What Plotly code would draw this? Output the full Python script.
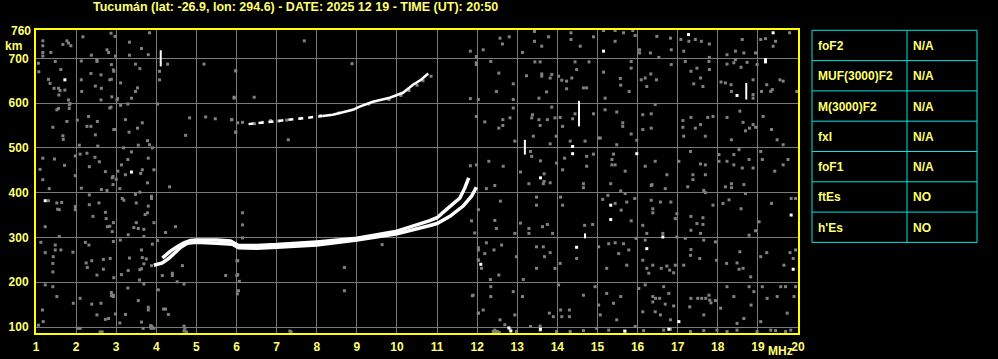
import plotly.graph_objects as go

# ---------------- data ----------------
freq_ticks = list(range(1, 21))
height_ticks = [100, 200, 300, 400, 500, 600, 700]

# F-layer trace, ordinary (upper strand)
o_freq = [4.15, 4.36, 4.53, 4.69, 4.85, 5.0, 5.5, 5.85, 6.05, 6.5, 7.0, 8.0, 9.0, 10.0, 10.8, 11.0, 11.23, 11.4, 11.57, 11.69, 11.79]
o_km = [254, 270, 280, 288, 293, 294, 294, 292, 282, 282, 284, 290, 298, 314, 337, 344, 362, 374, 388, 410, 433]
# F-layer trace, extraordinary (lower strand)
x_freq = [3.94, 4.15, 4.32, 4.48, 4.61, 4.77, 5.0, 5.5, 5.9, 6.05, 6.5, 7.0, 8.0, 9.0, 10.0, 10.8, 11.0, 11.32, 11.65, 11.86, 11.98]
x_km = [238, 243, 254, 267, 278, 287, 289, 287, 285, 277, 276, 278, 283, 294, 308, 326, 331, 347, 370, 392, 412]
# second-hop trace
hop2a_freq = [6.3, 6.9, 7.4, 7.82, 8.15]
hop2a_km = [553, 559, 563, 567, 571]
hop2b_freq = [8.15, 8.4, 8.9, 9.07, 9.4, 9.82, 10.15, 10.4, 10.6, 10.78]
hop2b_km = [571, 574, 585, 592, 603, 612, 623, 641, 652, 666]

# short vertical white echoes
bar_freq = [4.11, 14.54, 13.19, 18.71, 14.69]
bar_low = [682, 548, 485, 608, 298]
bar_high = [718, 605, 518, 645, 309]

# scattered gray noise pixels (freq MHz, height km)
noise_gray = [
    (1.17,739),(1.17,728),(1.17,713),(1.17,705),(1.37,713),(1.67,731),(1.77,739),(1.81,734),(1.87,728),(2.17,748),(2.38,707),(2.52,696),(2.87,756),(2.77,719),(2.81,713),(2.98,705),
    (1.06,689),(1.07,670),(1.48,693),(1.62,675),(1.31,653),(1.35,644),(1.45,633),(1.56,633),(1.6,628),(1.72,629),(1.57,618),(1.81,607),(1.85,599),(2.13,694),(2.13,652),(2.14,626),(2.37,666),(2.48,638),(2.52,693),(2.62,663),(2.63,633),(2.62,607),(2.88,653),(2.93,674),(2.89,614),(3.02,607),
    (1.56,588),(1.52,585),(1.77,559),(1.83,596),(1.83,588),(1.42,546),(1.67,527),(1.68,519),(2.03,562),(2.08,506),(2.31,570),(2.37,548),(2.27,548),(2.53,559),(2.48,529),(2.54,504),(2.87,591),(2.98,541),
    (1.17,477),(1.1,452),(1.17,429),(1.33,409),(1.46,475),(1.71,461),(1.98,482),(1.98,438),(2.1,486),(2.13,410),(2.33,458),(2.27,488),(2.47,479),(2.58,469),(2.73,447),(2.92,436),(3.0,430),(2.77,405),(2.63,407),
    (1.31,382),(1.52,377),(1.58,362),(1.54,363),(1.64,378),(1.98,369),(1.98,362),(2.33,373),(2.33,395),(2.42,347),(2.57,377),(2.73,356),(2.75,342),(2.78,324),(1.23,324),(2.93,333),
    (1.58,302),(1.12,289),(1.23,266),(1.48,283),(1.48,272),(1.62,272),(1.43,257),(1.42,242),(1.42,223),(1.92,267),(2.23,289),(2.32,283),(2.25,243),(2.28,233),(2.39,248),(2.52,216),(2.68,251),(2.68,229),(2.85,253),(2.93,291),
    (1.23,194),(1.42,190),(1.52,168),(1.93,153),(1.16,138),(1.18,112),(1.06,104),(2.1,164),(2.39,151),(2.52,127),(2.62,153),(2.73,117),(2.81,119),(2.93,171),(2.93,168),
    (2.05,97),(2.1,97),(2.6,89),(2.65,89),(3.67,97),(3.87,97),(3.87,102),(4.71,97),(4.75,89),(7.36,89),
    (2.97,749),(3.33,736),(3.83,757),(3.63,722),(3.8,708),(3.33,707),(2.88,686),(2.94,671),(3.48,687),(3.59,677),(2.84,652),(3.11,645),(4.08,671),(4.08,652),(3.53,634),(3.48,626),(3.38,611),(3.03,610),(2.84,589),(3.11,595),(3.29,598),(4.03,598),(4.28,687),(5.19,687),(5.98,672),(5.94,611),
    (3.23,563),(3.65,556),(3.32,535),(3.53,544),(2.94,541),(3.78,516),(3.83,507),(3.55,506),(3.9,500),(3.18,500),(4.83,567),(5.23,569),(5.47,565),(5.88,563),(6.03,556),(4.73,528),(5.98,535),
    (3.38,491),(3.29,474),(3.13,462),(3.65,451),(3.61,443),(3.23,440),(2.9,433),(2.92,418),(3.04,448),(3.78,422),(3.8,477),(3.94,451),(4.33,413),(3.09,409),(3.15,387),(3.19,383),(3.48,396),(3.5,377),(3.88,392),(3.88,387),(3.59,401),(3.8,370),(3.72,351),(3.78,355),(3.94,333),(3.5,333),(3.44,322),(3.55,320),(3.69,318),(4.23,311),(4.48,324),(2.84,325),(2.9,313),
    (3.1,294),(3.3,306),(3.69,302),(3.9,285),(4.03,293),(3.63,272),(3.33,254),(3.65,255),(3.69,241),(3.75,252),(3.88,237),(3.59,228),(3.63,230),(3.3,226),(3.13,217),(2.94,210),(4.65,237),(4.4,220),(4.4,215),(4.15,215),(4.05,183),(4.52,201),(4.69,196),(3.69,196),(3.58,205),(3.29,187),(2.88,177),(2.88,170),(3.55,159),(3.8,144),(3.8,138),(4.18,140),(4.23,140),(4.3,128),(2.98,129),(3.23,128),(3.63,111),(3.09,109),(3.86,103),(3.9,100),(3.94,97),(4.69,102),(4.69,91),(6.01,248),(6.01,215),(5.73,215),(6.02,174),
    (7.69,739),(8.88,688),(5.98,672),(5.94,613),(6.44,613),(11.83,716),(11.83,610),(11.98,704),(11.98,686),(12.03,608),(5.88,563),(5.98,535),(7.29,518),(11.83,460),(6.15,355),(6.15,328),(6.15,299),(6.03,248),(6.03,217),(6.07,202),(6.05,181),(8.69,233),(8.69,181),(9.63,284),(11.86,337),(11.94,310),(12.03,362),(12.03,277),(12.03,250),(11.88,170),(12.03,131),(7.33,91),
    (6.15,557),(6.45,554),(6.65,557),(6.85,561),(7.05,560),(7.25,562),(7.6,566),(8.1,572),(8.55,578),(9.3,598),(9.8,608),(10.1,617),(10.3,628),(10.5,640),(10.65,650),(10.85,660),
    (12.15,719),(12.57,745),(12.63,732),(12.8,748),(13.13,713),(13.43,760),(13.43,738),(13.61,727),(13.78,748),(14.34,757),(14.34,742),(14.57,727),(14.9,748),(15.15,762),(15.44,762),(15.44,738),(15.65,757),(15.88,762),(15.94,751),(16.05,719),(16.05,712),(16.32,712),(16.48,749),(16.53,702),(16.82,745),(16.84,719),(17.08,742),(17.15,716),(17.28,738),(17.44,742),(17.59,738),(17.79,732),(17.79,702),(18.23,708),(18.44,716),(18.44,697),(18.61,742),(18.65,712),(18.94,712),(19.07,742),(19.19,744),(19.38,727),(19.44,738),(19.79,757),
    (11.98,690),(12.34,693),(12.54,667),(12.9,643),(12.9,608),(12.48,626),(13.23,661),(13.44,692),(13.57,692),(13.61,665),(13.61,660),(13.73,625),(13.82,656),(13.86,664),(13.54,611),(14.03,660),(14.11,651),(14.23,649),(14.23,632),(14.36,656),(14.48,675),(14.44,692),(14.65,634),(14.73,634),(14.79,692),(15.15,669),(15.19,611),(15.57,655),(15.58,640),(15.79,626),(15.84,693),(15.84,678),(16.09,652),(16.19,656),(16.23,637),(16.33,665),(16.47,652),(16.84,686),(17.19,693),(17.33,671),(17.4,643),(17.48,678),(17.57,656),(17.63,637),(17.78,693),(17.79,675),(18.08,647),(18.19,645),(18.23,687),(18.33,641),(18.34,626),(18.4,690),(18.58,680),(18.73,691),(18.88,652),(18.88,619),(18.88,611),(18.98,686),(19.09,626),(19.22,641),(19.32,626),(19.36,630),(19.55,652),(19.63,649),(19.97,626),
    (11.98,570),(12.19,558),(12.54,544),(12.64,563),(12.64,550),(12.82,567),(12.9,589),(12.94,515),(13.36,567),(13.38,574),(13.4,526),(13.54,563),(13.57,550),(13.75,563),(13.82,509),(13.86,591),(13.94,567),(13.97,526),(14.07,568),(14.13,548),(14.32,515),(14.38,565),(14.44,576),(14.69,515),(14.9,576),(15.07,522),(15.19,585),(15.48,580),(15.63,556),(15.63,548),(15.84,531),(15.98,517),(16.13,574),(16.13,541),(16.34,576),(16.34,544),(16.44,597),(17.13,561),(17.13,546),(17.15,526),(17.33,568),(17.44,544),(17.57,552),(17.69,526),(17.75,568),(17.88,570),(18.23,568),(18.34,518),(18.55,582),(18.63,557),(18.69,538),(18.79,544),(18.88,552),(18.94,546),(19.13,570),(19.34,541),(19.48,518),(19.63,507),
    (11.98,462),(12.29,470),(12.65,459),(13.08,446),(13.33,492),(13.36,481),(13.58,471),(13.67,442),(13.67,425),(13.82,422),(13.98,466),(14.13,451),(14.18,477),(14.73,481),(14.73,459),(14.9,486),(15.03,522),(15.36,474),(15.36,462),(15.44,462),(15.4,486),(15.48,507),(15.69,448),(16.19,459),(16.36,418),(16.44,470),(16.73,440),(17.03,470),(17.32,492),(17.38,440),(17.38,429),(17.57,464),(17.69,462),(17.69,440),(18.03,485),(18.03,470),(18.23,470),(18.4,485),(18.4,462),(18.53,496),(18.61,455),(18.65,418),(18.78,474),(18.88,455),(19.07,492),(19.11,474),(19.42,448),(19.63,462),(19.75,474),
    (12.23,409),(12.44,416),(13.29,420),(13.65,420),(14.65,420),(14.65,411),(15.33,420),(15.58,404),(15.69,398),(16.34,416),(16.69,409),(17.25,413),(17.65,405),(17.69,400),(18.19,413),(18.34,420),(18.34,411),(18.69,398),
    (12.58,381),(12.44,338),(12.48,320),(12.94,309),(13.08,332),(13.29,320),(13.29,309),(13.48,390),(13.48,372),(13.63,324),(13.75,329),(13.88,309),(14.08,390),(14.13,372),(14.68,327),(14.88,329),(15.13,385),(15.26,394),(15.44,376),(15.59,361),(15.73,379),(15.84,337),(15.93,387),(16.13,327),(16.23,309),(16.34,383),(16.38,355),(16.38,364),(16.57,379),(16.63,309),(16.83,379),(16.94,342),(16.98,353),(16.98,301),(17.33,347),(17.33,316),(17.48,331),(17.57,309),(17.63,344),(17.63,329),(17.88,372),(18.13,376),(18.28,384),(18.58,364),(18.78,305),(18.94,315),(19.03,335),(19.34,376),(19.83,387),(19.94,387),
    (12.03,272),(12.03,249),(12.11,231),(12.19,264),(12.23,288),(12.33,206),(12.42,272),(12.54,216),(12.61,283),(12.98,257),(13.15,206),(13.48,279),(13.48,231),(13.65,279),(13.68,257),(13.82,266),(13.94,231),(14.07,242),(14.48,253),(15.03,279),(15.23,231),(15.28,286),(15.44,288),(15.53,264),(15.65,286),(15.73,238),(15.78,272),(15.96,298),(16.19,294),(16.13,249),(16.23,231),(16.28,220),(16.38,238),(16.59,231),(16.73,236),(16.8,227),(16.9,221),(16.94,238),(17.15,238),(17.19,298),(17.32,260),(17.33,273),(17.55,253),(17.65,294),(17.94,290),(17.97,249),(18.22,242),(18.48,243),(18.55,268),(18.53,229),(18.63,231),(18.82,212),(19.07,257),(19.22,266),(19.65,238),(19.8,266),(19.88,253),(19.94,272),
    (11.9,171),(12.03,131),(12.15,138),(12.34,190),(12.34,168),(12.57,116),(12.69,105),(12.9,179),(12.94,127),(13.13,168),(13.33,101),(13.57,102),(13.8,131),(13.9,123),(14.03,194),(14.08,138),(14.11,123),(14.3,138),(14.3,123),(14.65,171),(14.94,190),(15.03,149),(15.07,127),(15.23,175),(15.4,153),(15.48,116),(15.58,168),(16.03,186),(16.13,134),(16.19,194),(16.38,168),(16.38,156),(16.44,134),(16.57,127),(16.65,190),(16.69,151),(16.78,175),(16.82,116),(16.9,147),(17.3,145),(17.33,164),(17.65,127),(17.78,171),(17.83,154),(17.94,159),(18.07,142),(18.23,190),(18.4,168),(18.48,108),(18.65,119),(18.78,190),(18.83,149),(18.9,179),(19.07,112),(19.11,190),(19.23,164),(19.48,168),(19.57,190),(19.69,190),(19.73,131),(19.9,168),(19.94,190),
    (16.45,164),(16.55,164),(17.5,164),(17.6,164),(17.7,164),(17.8,160),
    (12.44,93),(12.48,90),(12.82,95),(12.98,90),(13.57,93),(13.98,90),(14.32,90),(14.65,92),(14.98,97),(15.28,93),(15.69,90),(15.94,101),(16.15,92),(16.65,93),(16.82,95),(17.32,90),(17.65,92),(17.98,93),(18.23,90),(18.48,93),(18.98,90),(19.32,93),(19.44,92),(19.69,90),(19.82,93),
    (12.4,90),(12.45,88),(12.5,90),(12.55,88),
]

# scattered white pixels (freq MHz, height km)
noise_white = [
    (1.72,652),(1.23,382),(3.38,446),(15.15,716),(17.27,753),(19.38,757),(19.19,697),(19.19,692),(18.48,617),
    (14.38,503),(14.38,487),(15.98,487),(13.58,433),(15.33,372),(15.33,340),(19.83,350),(14.48,278),(16.23,275),
    (16.63,301),(12.09,240),(19.88,229),(12.79,98),(12.84,91),(13.58,95),(15.68,91),(16.78,95),(17.03,112),
]

table_params = ["foF2", "MUF(3000)F2", "M(3000)F2", "fxI", "foF1", "ftEs", "h'Es"]
table_values = ["N/A", "N/A", "N/A", "N/A", "N/A", "NO", "NO"]

title_text = "Tucumán (lat: -26.9, lon: 294.6) - DATE: 2025 12 19 - TIME (UT): 20:50"

# ---------------- style ----------------
TXT = "#FFFF70"
FRAME = "#FFFF00"
GRID = "#7a7a7a"
CYAN = "#00E5E5"
FONT = "Liberation Sans"

W, H = 998, 359
ML, MR, MT, MB = 36, 0, 30, 26
PW, PH = W - ML - MR, H - MT - MB
plot_right = 798


def px_x(px):
    return (px - ML) / PW


def px_y(py):
    return (H - MB - py) / PH


fig = go.Figure()

fig.add_trace(go.Scatter(
    x=[p[0] for p in noise_gray], y=[p[1] for p in noise_gray], mode="markers",
    marker=dict(symbol="square", size=3, color="#808080", line=dict(width=0)),
    hoverinfo="skip", showlegend=False))
fig.add_trace(go.Scatter(
    x=[p[0] for p in noise_white], y=[p[1] for p in noise_white], mode="markers",
    marker=dict(symbol="square", size=3, color="#FFFFFF", line=dict(width=0)),
    hoverinfo="skip", showlegend=False))

bx, by = [], []
for f, lo, hi in zip(bar_freq, bar_low, bar_high):
    bx += [f, f, None]
    by += [lo, hi, None]
fig.add_trace(go.Scatter(x=bx, y=by, mode="lines", line=dict(color="#FFFFFF", width=2),
                         hoverinfo="skip", showlegend=False))

fig.add_trace(go.Scatter(x=hop2a_freq, y=hop2a_km, mode="lines",
                         line=dict(color="#FFFFFF", width=2.5, dash="5px,5px"),
                         hoverinfo="skip", showlegend=False))
fig.add_trace(go.Scatter(x=hop2b_freq, y=hop2b_km, mode="lines",
                         line=dict(color="#FFFFFF", width=2.5),
                         hoverinfo="skip", showlegend=False))
fig.add_trace(go.Scatter(x=x_freq, y=x_km, mode="lines", line=dict(color="#FFFFFF", width=3.5),
                         hoverinfo="skip", showlegend=False))
fig.add_trace(go.Scatter(x=o_freq, y=o_km, mode="lines", line=dict(color="#FFFFFF", width=3.5),
                         hoverinfo="skip", showlegend=False))

# parameter table drawn as a grid of lines with text annotations
T_LEFT, T_MID, T_RIGHT, T_TOP, ROW_H = 812, 907, 977, 30.3, 30.3
n_rows = len(table_params)
shapes = []
for i in range(n_rows + 1):
    yy = px_y(T_TOP + i * ROW_H)
    shapes.append(dict(type="line", xref="paper", yref="paper", x0=px_x(T_LEFT), x1=px_x(T_RIGHT),
                       y0=yy, y1=yy, line=dict(color=CYAN, width=1)))
for xx in (T_LEFT, T_MID, T_RIGHT):
    shapes.append(dict(type="line", xref="paper", yref="paper", x0=px_x(xx), x1=px_x(xx),
                       y0=px_y(T_TOP), y1=px_y(T_TOP + n_rows * ROW_H), line=dict(color=CYAN, width=1)))

axis_font = dict(family=FONT, size=12, color=TXT, weight="bold")
annotations = [
    dict(text=title_text, xref="paper", yref="paper", x=px_x(91), y=px_y(7),
         xanchor="left", yanchor="middle", showarrow=False,
         font=dict(family=FONT, size=12.5, color=TXT, weight="bold")),
    dict(text="760", xref="paper", yref="y", x=-4 / PW, y=760, xanchor="right",
         yanchor="middle", showarrow=False, font=axis_font, borderpad=0),
    dict(text="km", xref="paper", yref="paper", x=px_x(13.5), y=px_y(45.5),
         xanchor="center", yanchor="middle", showarrow=False, font=axis_font, borderpad=0),
    dict(text="MHz", xref="paper", yref="paper", x=px_x(780), y=px_y(351),
         xanchor="center", yanchor="middle", showarrow=False, font=axis_font, borderpad=0),
]
for i, (name, val) in enumerate(zip(table_params, table_values)):
    yc = px_y(T_TOP + (i + 0.5) * ROW_H + 0.5)
    annotations.append(dict(text=name, xref="paper", yref="paper", x=px_x(T_LEFT + 5), y=yc,
                            xanchor="left", yanchor="middle", showarrow=False, font=axis_font, borderpad=0))
    annotations.append(dict(text=val, xref="paper", yref="paper", x=px_x(T_MID + 5), y=yc,
                            xanchor="left", yanchor="middle", showarrow=False, font=axis_font, borderpad=0))

fig.update_layout(
    width=W, height=H, autosize=False,
    margin=dict(l=ML, r=MR, t=MT, b=MB, pad=0, autoexpand=False),
    paper_bgcolor="#000000", plot_bgcolor="#000000",
    showlegend=False,
    xaxis=dict(domain=[0, px_x(plot_right)], range=[1, 20], tickvals=freq_ticks,
               showgrid=True, gridcolor=GRID, gridwidth=1, zeroline=False,
               showline=True, linecolor=FRAME, linewidth=2, mirror=True,
               ticks="", tickfont=axis_font, ticklabelstandoff=2, fixedrange=True),
    yaxis=dict(range=[86.6, 763.2], tickvals=height_ticks,
               showgrid=True, gridcolor=GRID, gridwidth=1, zeroline=False,
               showline=True, linecolor=FRAME, linewidth=2, mirror=True,
               ticks="", tickfont=axis_font, ticklabelstandoff=3, fixedrange=True),
    shapes=shapes,
    annotations=annotations,
)

fig.write_html("out.html", config={"displayModeBar": False, "staticPlot": True})
